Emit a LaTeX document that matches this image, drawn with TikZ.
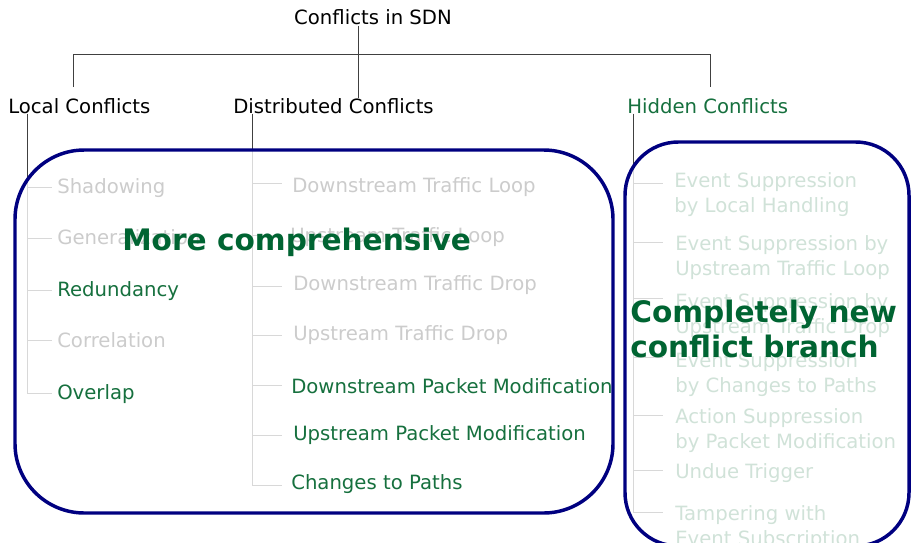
\documentclass[tikz,border=0pt]{standalone}
\usepackage{fontspec}
\setmainfont{DejaVu Sans}
\definecolor{hgreen}{RGB}{22,112,62}
\definecolor{bgreen}{RGB}{0,100,50}
\definecolor{boxnavy}{RGB}{0,0,128}
\begin{document}
\begin{tikzpicture}[x=0.75pt,y=-0.75pt,
  lbl/.style={inner sep=0pt, anchor=base west, font=\fontsize{14.75}{17.6}\selectfont},
  plain/.style={lbl, text=black},
  hl/.style={lbl, text=hgreen},
  tree/.style={draw=black!75, line width=0.75pt},
  bigbox/.style={draw=boxnavy, line width=2.6pt, fill=white, fill opacity=0.8, draw opacity=1},
  claim/.style={inner sep=0pt, anchor=base west, text=bgreen, font=\fontsize{22.2}{26.25}\selectfont\bfseries}]
\useasboundingbox (0,0) rectangle (912,542);

% top levels
\node[lbl, anchor=base] (root) at (373,25) {Conflicts in SDN};
\node[plain] (local) at (8,113) {Local Conflicts};
\node[plain] (dist) at (233,113) {Distributed Conflicts};
\node[hl] (hidden) at (627,113) {Hidden Conflicts};

\coordinate (jr) at (358,0);
\coordinate (bl) at (73,87);
\coordinate (br) at (710,87);
\draw[tree] (root.south -| jr) -- (dist.north -| jr);
\draw[tree] (bl) -- (73,55) -- (710,55) -- (br);

% trunks and stubs
\coordinate (lt) at (27,0);
\coordinate (dt) at (252,0);
\coordinate (ht) at (633,0);
\draw[tree] (local.south -| lt) -- (27,393);
\foreach \y in {187,238,290,340,393} \draw[tree] (27,\y) -- (52,\y);
\draw[tree] (dist.south -| dt) -- (252,485);
\foreach \y in {183,235,286,335,385,435,485} \draw[tree] (252,\y) -- (282,\y);
\draw[tree] (hidden.south -| ht) -- (633,512);
\foreach \y in {183,242,298,357,415,470,512} \draw[tree] (633,\y) -- (663,\y);

% faded items (under overlay)
\node[plain] (l1) at (57,193) {Shadowing};
\node[plain] (l2) at (57,244) {Generalization};
\node[plain] (l4) at (57,347) {Correlation};
\node[plain] (d1) at (292,192) {Downstream Traffic Loop};
\node[plain] (d2) at (290,242) {Upstream Traffic Loop};
\node[plain] (d3) at (293,290) {Downstream Traffic Drop};
\node[plain] (d4) at (293,340) {Upstream Traffic Drop};

\node[hl] (h1) at (674,187) {Event Suppression};
\node[hl] (h1b) at (674,212) {by Local Handling};
\node[hl] (h2) at (675,250) {Event Suppression by};
\node[hl] (h2b) at (675,275) {Upstream Traffic Loop};
\node[hl] (h3) at (675,308) {Event Suppression by};
\node[hl] (h3b) at (675,333) {Upstream Traffic Drop};
\node[hl] (h4) at (675,367) {Event Suppression};
\node[hl] (h4b) at (675,392) {by Changes to Paths};
\node[hl] (h5) at (675,423) {Action Suppression};
\node[hl] (h5b) at (675,448) {by Packet Modification};
\node[hl] (h6) at (675,478) {Undue Trigger};
\node[hl] (h7) at (675,520) {Tampering with};
\node[hl] (h7b) at (675,545) {Event Subscription};

% overlay boxes
\draw[bigbox, rounded corners=52pt] (15,150) rectangle (613,513);
\draw[bigbox, rounded corners=40pt] (625,142) rectangle (909,546);

% highlighted items
\node[hl] (l3) at (57,296) {Redundancy};
\node[hl] (l5) at (57,399) {Overlap};
\node[hl] (d5) at (291,393) {Downstream Packet Modification};
\node[hl] (d6) at (293,440) {Upstream Packet Modification};
\node[hl] (d7) at (291,489) {Changes to Paths};

% claims
\node[claim] (mc) at (122,250) {More comprehensive};
\node[claim] (cn) at (630,322) {Completely new};
\node[claim] (cb) at (630,357) {conflict branch};
\end{tikzpicture}
\end{document}
